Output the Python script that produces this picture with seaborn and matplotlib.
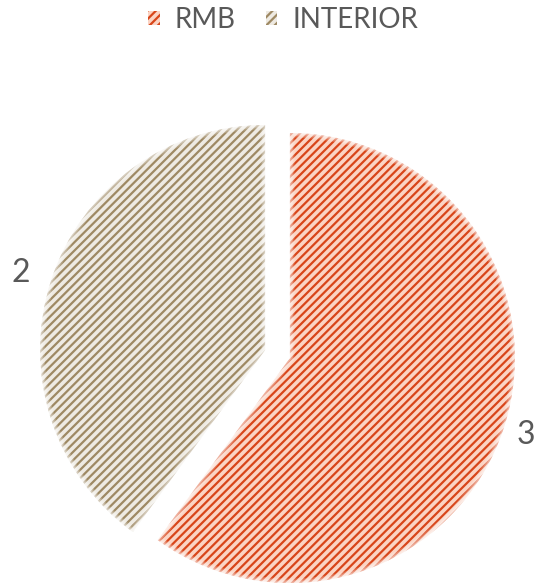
import matplotlib
matplotlib.use("Agg")
import matplotlib.pyplot as plt
from matplotlib.patches import Patch, Wedge
import seaborn as sns

# Data
categories = ["RMB", "INTERIOR"]
values = [3, 2]
value_labels = ["3", "2"]

# Styling
face_colors = ["#FBD4C4", "#EEEAE2"]
hatch_colors = ["#D8461A", "#9E8963"]
text_color = "#595959"

sns.set_theme(style="white")
plt.rcParams["font.family"] = ["Lato", "DejaVu Sans"]
plt.rcParams["hatch.linewidth"] = 1.6

fig = plt.figure(figsize=(5.39, 5.83), dpi=100)
ax = fig.add_axes([0, 0, 1, 1])

wedges, texts = ax.pie(
    values,
    labels=value_labels,
    startangle=90,
    counterclock=False,
    explode=[0.058, 0.058],
    labeldistance=1.10,
    colors=face_colors,
    wedgeprops=dict(linewidth=0),
    textprops=dict(fontsize=23, color=text_color),
)
for w, hc in zip(wedges, hatch_colors):
    w.set_hatch("////")
    w.set_edgecolor(hc)
    w.set_linewidth(0)

# keep the right-hand value label inside the canvas
for t in texts:
    if t.get_horizontalalignment() == "left":
        x, y = t.get_position()
        t.set_position((x - 0.04, y))

# Soft, faded rim on each slice
for w in wedges:
    for lw_px, a in [(9, 0.2), (6, 0.25), (3, 0.3)]:
        rim = Wedge(w.center, w.r, w.theta1, w.theta2, fill=False,
                    edgecolor="white", linewidth=lw_px * 0.72, alpha=a,
                    joinstyle="miter")
        ax.add_patch(rim)

ax.set_xlim(-277.5 / 225, (539 - 277.5) / 225)
ax.set_ylim(-(583 - 354) / 225, 354 / 225)
ax.set_aspect("equal")
ax.axis("off")

handles = [Patch(facecolor=fc, edgecolor=hc, hatch="////", linewidth=0, label=c)
           for c, fc, hc in zip(categories, face_colors, hatch_colors)]
fig.legend(handles=handles, loc="center", ncol=2, frameon=False,
           bbox_to_anchor=(283.5 / 539, 1 - 20 / 583),
           fontsize=20, labelcolor=text_color,
           handlelength=0.4, handleheight=0.4, handletextpad=0.55,
           columnspacing=1.1, borderpad=0)

fig.savefig("out.png", dpi=100)
